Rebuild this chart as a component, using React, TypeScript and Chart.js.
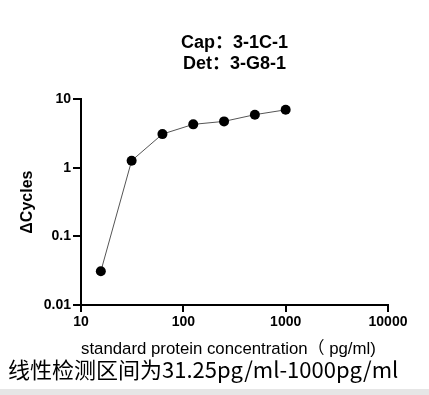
import React, { useEffect, useRef } from "react";
import { Chart, registerables } from "chart.js";
Chart.register(...registerables);

const titleLines = ["Cap：3-1C-1", "Det：3-G8-1"];
const concentrations = [15.625, 31.25, 62.5, 125, 250, 500, 1000];
const deltaCycles = [0.031, 1.27, 3.1, 4.3, 4.75, 5.95, 7.0];
const xTicks = [10, 100, 1000, 10000];
const yTicks = [0.01, 0.1, 1, 10];
const xTitle = "standard protein concentration（ pg/ml)";
const yTitle = "ΔCycles";
const note = "线性检测区间为31.25pg/ml-1000pg/ml";

const FAMILY = '"Liberation Sans", Arial, "Noto Sans CJK SC", sans-serif';

export default function App() {
  const ref = useRef<HTMLCanvasElement | null>(null);

  useEffect(() => {
    if (!ref.current) return;
    const chart = new Chart(ref.current, {
      type: "scatter",
      data: {
        datasets: [
          {
            data: concentrations.map((x, i) => ({ x, y: deltaCycles[i] })),
            showLine: true,
            borderColor: "#555",
            borderWidth: 1,
            pointRadius: 5,
            pointBackgroundColor: "#000",
            pointBorderColor: "#000",
            pointBorderWidth: 0,
          },
        ],
      },
      options: {
        responsive: false,
        animation: false,
        layout: { padding: { left: 0, right: 41, top: 0, bottom: 0 } },
        plugins: {
          legend: { display: false },
          tooltip: { enabled: false },
          title: {
            display: true,
            fullSize: false,
            text: titleLines,
            color: "#000",
            font: { family: FAMILY, size: 18, weight: "bold", lineHeight: 1.2 },
            padding: { top: 32, bottom: 24 },
          },
        },
        scales: {
          x: {
            type: "logarithmic",
            min: 10,
            max: 10000,
            afterBuildTicks: (s: any) => {
              s.ticks = xTicks.map((v) => ({ value: v }));
            },
            afterFit: (s: any) => {
              s.height = 360 - 305;
            },
            ticks: {
              callback: (v: any) => String(v),
              color: "#000",
              font: { family: FAMILY, size: 14, weight: "bold" },
              padding: 2,
              maxRotation: 0,
              autoSkip: false,
            },
            grid: {
              drawOnChartArea: false,
              drawTicks: true,
              tickLength: 7,
              color: "#000",
              lineWidth: 2,
            },
            border: { display: true, color: "#000", width: 2 },
            title: {
              display: true,
              align: "start",
              text: xTitle,
              color: "#000",
              font: { family: FAMILY, size: 16.8, weight: "normal" },
              padding: { top: 0, bottom: 1 },
            },
          },
          y: {
            type: "logarithmic",
            min: 0.01,
            max: 10,
            afterBuildTicks: (s: any) => {
              s.ticks = yTicks.map((v) => ({ value: v }));
            },
            afterFit: (s: any) => {
              s.width = 81;
            },
            ticks: {
              callback: (v: any) => String(v),
              color: "#000",
              font: { family: FAMILY, size: 14, weight: "bold" },
              padding: 2,
              autoSkip: false,
            },
            grid: {
              drawOnChartArea: false,
              drawTicks: true,
              tickLength: 8,
              color: "#000",
              lineWidth: 2,
            },
            border: { display: true, color: "#000", width: 2 },
            title: {
              display: true,
              text: yTitle,
              color: "#000",
              font: { family: FAMILY, size: 16, weight: "bold" },
              padding: { top: 18, bottom: 0 },
            },
          },
        },
      },
    } as any);
    return () => chart.destroy();
  }, []);

  return (
    <div
      style={{
        position: "absolute",
        left: 0,
        top: 0,
        width: 429,
        height: 395,
        background: "#fff",
        overflow: "hidden",
      }}
    >
      <canvas ref={ref} width={429} height={360} style={{ display: "block", width: 429, height: 360 }} />
      <div
        style={{
          position: "absolute",
          left: 8,
          top: 354,
          fontFamily: '"Noto Sans CJK SC", sans-serif',
          fontSize: 22,
          lineHeight: "28px",
          color: "#000",
          whiteSpace: "nowrap",
        }}
      >
        {note}
      </div>
      <div
        style={{
          position: "absolute",
          left: 0,
          top: 389,
          width: 429,
          height: 6,
          background: "#e6e6e6",
        }}
      />
    </div>
  );
}
